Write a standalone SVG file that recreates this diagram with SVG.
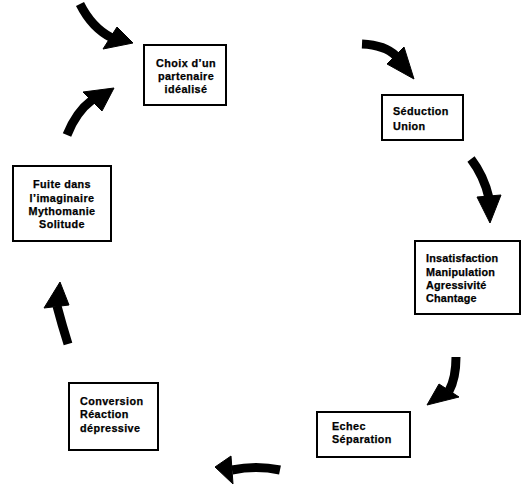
<svg xmlns="http://www.w3.org/2000/svg" width="527" height="495" viewBox="0 0 527 495">
  <style>
    .box { fill: #fff; stroke: #000; stroke-width: 2; }
    .label { font-family: "Liberation Sans", Arial, sans-serif; font-weight: bold; font-size: 10.8px; letter-spacing: 0.4px; fill: #000; stroke: #000; stroke-width: 0.25px; }
    .tight { letter-spacing: 0.2px; }
    .mid { text-anchor: middle; }
    .arrow-body { fill: none; stroke: #000; stroke-width: 9; }
    .arrow-head { fill: #000; stroke: #000; stroke-width: 1; stroke-linejoin: round; }
  </style>
  <rect width="527" height="495" fill="#fff"/>

  <!-- curved cycle arrows -->
  <g id="connectors">
    <g id="arrow-in-top">
      <path class="arrow-body" d="M80,4 Q92,28 112,38"/>
      <polygon class="arrow-head" points="117,27 133,43 103,49"/>
    </g>
    <g id="arrow-top-right">
      <path class="arrow-body" d="M362,44 Q385,45 396,56"/>
      <polygon class="arrow-head" points="404,47 414,79 387,64"/>
    </g>
    <g id="arrow-right">
      <path class="arrow-body" d="M471,159 Q484,176 489,198"/>
      <polygon class="arrow-head" points="477,197 501,195 490,223"/>
    </g>
    <g id="arrow-lower-right">
      <path class="arrow-body" d="M456,357 Q456,378 449,391"/>
      <polygon class="arrow-head" points="439,384 459,397 427,405"/>
    </g>
    <g id="arrow-bottom">
      <path class="arrow-body" d="M280,470 Q256,465 232,470"/>
      <polygon class="arrow-head" points="231,456 233,484 215,467"/>
    </g>
    <g id="arrow-left">
      <path class="arrow-body" d="M68,344 Q62,325 57,306"/>
      <polygon class="arrow-head" points="44,308 69,305 60,282"/>
    </g>
    <g id="arrow-upper-left">
      <path class="arrow-body" d="M67,135 Q76,112 92,100"/>
      <polygon class="arrow-head" points="83,92 114,88 102,111"/>
    </g>
  </g>

  <g id="node-choix">
    <rect class="box" x="144" y="45" width="82" height="60"/>
    <text class="label mid" x="186" y="67">Choix d’un</text>
    <text class="label mid" x="186" y="80">partenaire</text>
    <text class="label mid" x="186" y="93">idéalisé</text>
  </g>

  <g id="node-seduction">
    <rect class="box" x="382" y="95" width="81" height="45"/>
    <text class="label" x="393" y="115">Séduction</text>
    <text class="label" x="393" y="130">Union</text>
  </g>

  <g id="node-insatisfaction">
    <rect class="box" x="415" y="241" width="105" height="73"/>
    <text class="label tight" x="426" y="262">Insatisfaction</text>
    <text class="label tight" x="426" y="276">Manipulation</text>
    <text class="label tight" x="426" y="289">Agressivité</text>
    <text class="label tight" x="426" y="302">Chantage</text>
  </g>

  <g id="node-echec">
    <rect class="box" x="317" y="412" width="93" height="45"/>
    <text class="label" x="332" y="430">Echec</text>
    <text class="label" x="332" y="443">Séparation</text>
  </g>

  <g id="node-conversion">
    <rect class="box" x="69" y="383" width="89" height="67"/>
    <text class="label" x="80" y="405">Conversion</text>
    <text class="label" x="80" y="418">Réaction</text>
    <text class="label" x="80" y="432">dépressive</text>
  </g>

  <g id="node-fuite">
    <rect class="box" x="13" y="166" width="98" height="75"/>
    <text class="label mid" x="62" y="188">Fuite dans</text>
    <text class="label mid" x="62" y="202">l’imaginaire</text>
    <text class="label mid" x="62" y="215">Mythomanie</text>
    <text class="label mid" x="62" y="228">Solitude</text>
  </g>
</svg>
